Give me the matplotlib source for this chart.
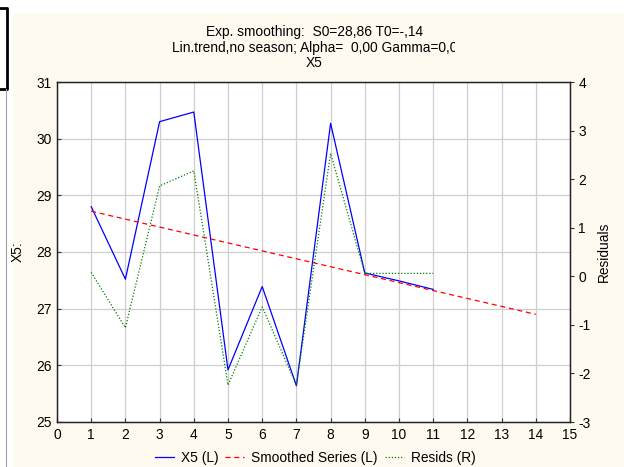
import matplotlib
matplotlib.use("Agg")
import matplotlib.pyplot as plt
from matplotlib.lines import Line2D
from matplotlib.transforms import Bbox, TransformedBbox

plt.rcParams['font.family'] = ['Liberation Sans', 'DejaVu Sans']
plt.rcParams['font.size'] = 9.9
plt.rcParams['axes.unicode_minus'] = False

# data
t_obs = [1, 2, 3, 4, 5, 6, 7, 8, 9, 10, 11]
x5 = [28.80, 27.52, 30.30, 30.47, 25.92, 27.39, 25.64, 30.27, 27.63, 27.49, 27.34]
t_smooth = [1, 2, 3, 4, 5, 6, 7, 8, 9, 10, 11, 12, 13, 14]
smoothed = [28.72, 28.58, 28.44, 28.30, 28.16, 28.02, 27.88, 27.74, 27.60,
            27.46, 27.32, 27.18, 27.04, 26.90]
resids = [0.08, -1.06, 1.86, 2.17, -2.24, -0.63, -2.24, 2.53, 0.06, 0.06, 0.06]

xticks = list(range(0, 16))
left_ticks = [25, 26, 27, 28, 29, 30, 31]
right_ticks = [-3, -2, -1, 0, 1, 2, 3, 4]

cream = '#FEFAF0'

fig = plt.figure(figsize=(6.24, 4.67), dpi=100)
fig.patch.set_facecolor('white')
W, H = 624, 467

# cream panel behind everything
fig.patches.append(plt.Rectangle((13 / W, 0), 1, 1 - 13 / H, transform=fig.transFigure,
                                 facecolor=cream, edgecolor='none', zorder=-10))
# window frame bits on the left
fig.add_artist(Line2D([0, 7 / W, 7 / W, 0], [1 - 8 / H, 1 - 8 / H, 1 - 89 / H, 1 - 89 / H],
                      transform=fig.transFigure, color='black', lw=2))
fig.add_artist(Line2D([6 / W, 6 / W], [1 - 89 / H, 0], transform=fig.transFigure,
                      color='#A0A0A0', lw=0.8))

ax = fig.add_axes([57 / W, 1 - 422 / H, (570 - 57) / W, (422 - 82) / H])
ax.set_facecolor('white')
ax.set_xlim(0, 15)
ax.set_ylim(25, 31)
ax.set_xticks(xticks)
ax.set_yticks(left_ticks)
ax.grid(True, color='#CFCFCF', lw=0.9)
ax.set_axisbelow(True)
ax.tick_params(direction='in', length=3, color='#333333', labelsize=9.9, pad=4)
for s in ax.spines.values():
    s.set_color('#222222')
    s.set_linewidth(0.9)

l1, = ax.plot(t_obs, x5, color='#0000FF', lw=0.9)
l2, = ax.plot(t_smooth, smoothed, color='#FF0000', lw=0.9, linestyle=(0, (4, 3)))
ax.set_ylabel('X5:')
ax.yaxis.set_label_coords(-0.063, 0.5)

ax2 = ax.twinx()
ax2.set_ylim(-3, 4)
ax2.set_yticks(right_ticks)
ax2.tick_params(direction='out', length=3, color='#333333', labelsize=9.9, pad=3)
for s in ax2.spines.values():
    s.set_color('#222222')
    s.set_linewidth(0.9)
l3, = ax2.plot(t_obs, resids, color='#008000', lw=0.9, linestyle=(0, (1, 1.5)))
ax2.set_ylabel('Residuals')
ax2.yaxis.set_label_coords(1.053, 0.5)

fig.text(314 / W, 1 - 32 / H, 'Exp. smoothing:  S0=28,86 T0=-,14', ha='center', va='center')
t2 = fig.text(172 / W, 1 - 48 / H, 'Lin.trend,no season; Alpha=  0,00 Gamma=0,00',
              ha='left', va='center')
t2.set_clip_box(TransformedBbox(Bbox([[0, 0], [455 / W, 1]]), fig.transFigure))
t2.set_clip_on(True)
fig.text(314 / W, 1 - 63 / H, 'X5', ha='center', va='center')

fig.legend([l1, l2, l3], ['X5 (L)', 'Smoothed Series (L)', 'Resids (R)'],
           loc='center', bbox_to_anchor=(315 / W, 1 - 458 / H), ncol=3, frameon=False,
           fontsize=9.9, handlelength=1.4, handletextpad=0.5, columnspacing=0.5,
           borderpad=0)

fig.savefig('out.png', dpi=100, facecolor=fig.get_facecolor())
